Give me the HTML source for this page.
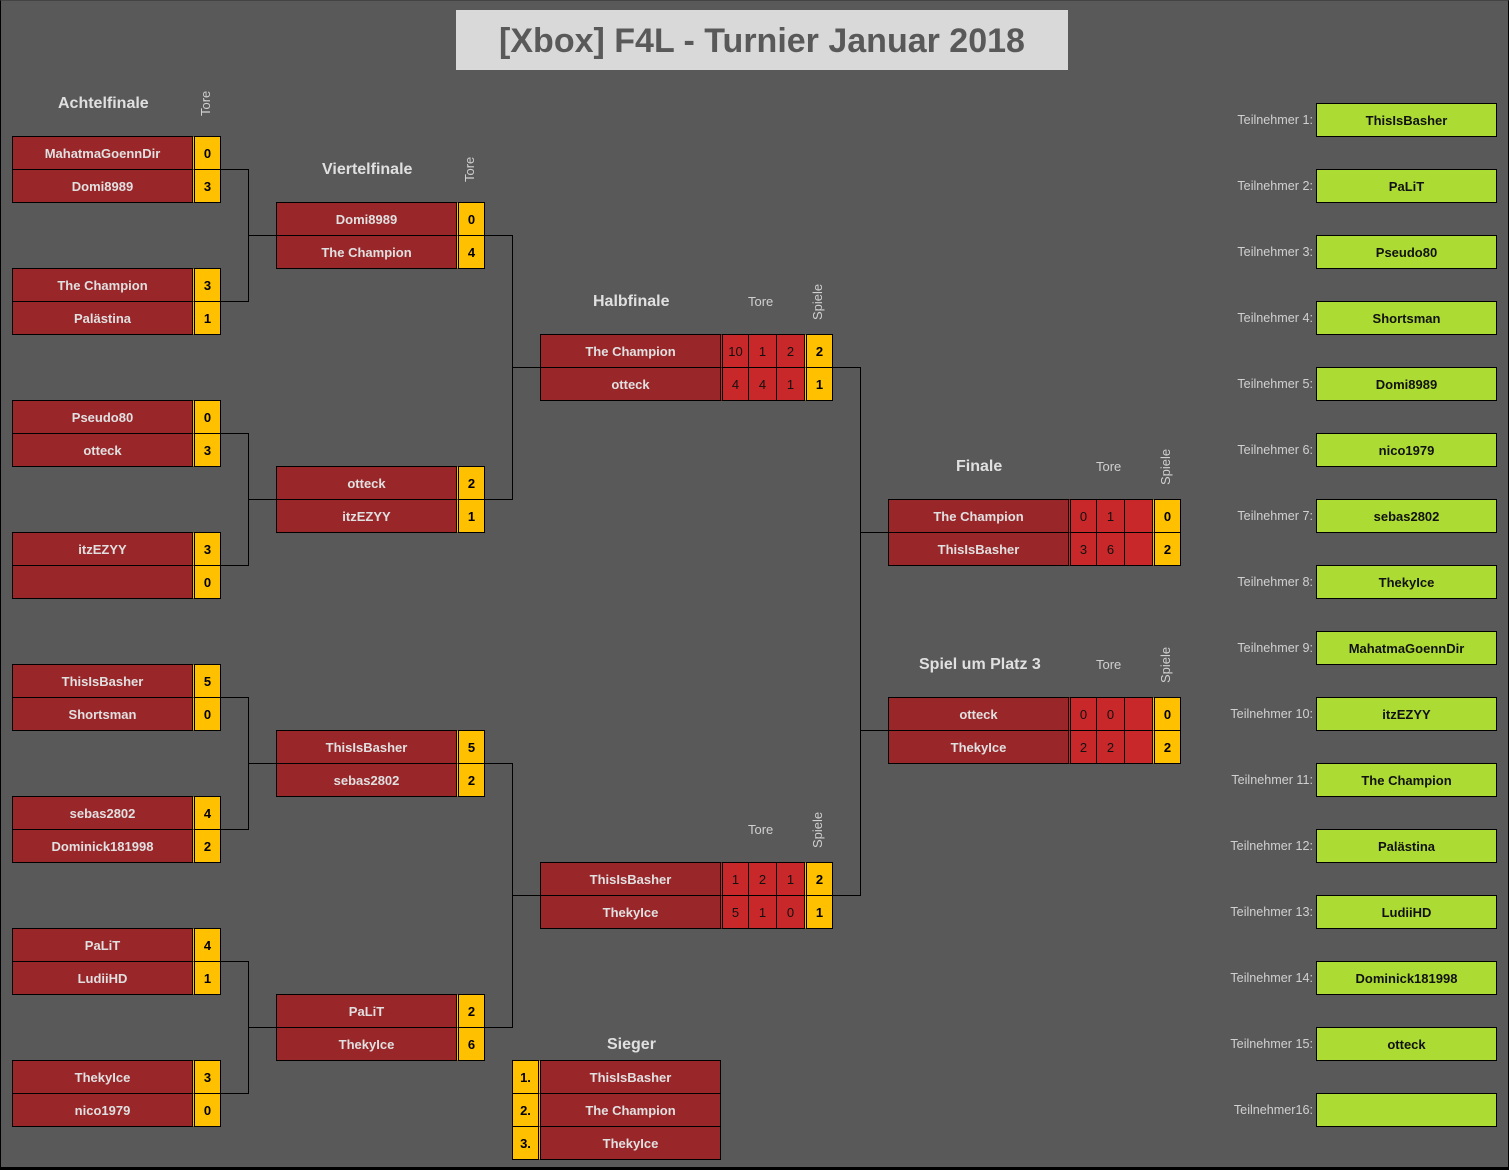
<!DOCTYPE html>
<html><head><meta charset="utf-8"><style>
body{margin:0;background:#595959;width:1509px;height:1170px;position:relative;overflow:hidden;font-family:"Liberation Sans",sans-serif}
.c{position:absolute;box-sizing:border-box;border:1px solid #000;display:flex;align-items:center;justify-content:center;font-size:13px;font-weight:bold}
.n{background:#992629;color:#e0e0e0}
.s{background:#ffc000;color:#000;border-left:3px double #000}
.t{background:#c8282a;color:#111;font-weight:normal}
.g{background:#acdc33;color:#111}
.h{position:absolute;color:#e0e0e0;font-weight:bold;font-size:16px}
.l{position:absolute;color:#d0d0d0;font-size:13px}
.v{position:absolute;color:#d0d0d0;font-size:13px;transform:rotate(-90deg);transform-origin:left top}
.ln{position:absolute;background:#000}
.tl{position:absolute;color:#d0d0d0;font-size:12.6px;text-align:right;width:120px}
</style></head><body>
<div style="position:absolute;left:0;top:0;width:1509px;height:1170px;box-sizing:border-box;border:1px solid #000;border-bottom:3px solid #000;border-top:1px solid #444"></div>
<div style="position:absolute;left:456px;top:10px;width:612px;height:60px;background:#d9d9d9;color:#595959;font-weight:bold;font-size:34px;display:flex;align-items:center;justify-content:center;padding-top:3px;box-sizing:border-box">[Xbox] F4L - Turnier Januar 2018</div>

<div class="h" style="left:58px;top:95px">Achtelfinale</div>
<div class="v" style="left:198px;top:116px">Tore</div>
<div class="h" style="left:322px;top:161px">Viertelfinale</div>
<div class="v" style="left:462px;top:182px">Tore</div>
<div class="h" style="left:593px;top:293px">Halbfinale</div>
<div class="l" style="left:748px;top:294px">Tore</div>
<div class="v" style="left:810px;top:320px">Spiele</div>
<div class="l" style="left:748px;top:822px">Tore</div>
<div class="v" style="left:810px;top:848px">Spiele</div>
<div class="h" style="left:956px;top:458px">Finale</div>
<div class="l" style="left:1096px;top:459px">Tore</div>
<div class="v" style="left:1158px;top:485px">Spiele</div>
<div class="h" style="left:919px;top:656px">Spiel um Platz 3</div>
<div class="l" style="left:1096px;top:657px">Tore</div>
<div class="v" style="left:1158px;top:683px">Spiele</div>
<div class="h" style="left:607px;top:1036px">Sieger</div>

<!-- Achtelfinale -->
<div class="c n" style="left:12px;top:136px;width:181px;height:34px">MahatmaGoennDir</div><div class="c s" style="left:192px;top:136px;width:29px;height:34px">0</div>
<div class="c n" style="left:12px;top:169px;width:181px;height:34px">Domi8989</div><div class="c s" style="left:192px;top:169px;width:29px;height:34px">3</div>
<div class="c n" style="left:12px;top:268px;width:181px;height:34px">The Champion</div><div class="c s" style="left:192px;top:268px;width:29px;height:34px">3</div>
<div class="c n" style="left:12px;top:301px;width:181px;height:34px">Palästina</div><div class="c s" style="left:192px;top:301px;width:29px;height:34px">1</div>
<div class="c n" style="left:12px;top:400px;width:181px;height:34px">Pseudo80</div><div class="c s" style="left:192px;top:400px;width:29px;height:34px">0</div>
<div class="c n" style="left:12px;top:433px;width:181px;height:34px">otteck</div><div class="c s" style="left:192px;top:433px;width:29px;height:34px">3</div>
<div class="c n" style="left:12px;top:532px;width:181px;height:34px">itzEZYY</div><div class="c s" style="left:192px;top:532px;width:29px;height:34px">3</div>
<div class="c n" style="left:12px;top:565px;width:181px;height:34px"></div><div class="c s" style="left:192px;top:565px;width:29px;height:34px">0</div>
<div class="c n" style="left:12px;top:664px;width:181px;height:34px">ThisIsBasher</div><div class="c s" style="left:192px;top:664px;width:29px;height:34px">5</div>
<div class="c n" style="left:12px;top:697px;width:181px;height:34px">Shortsman</div><div class="c s" style="left:192px;top:697px;width:29px;height:34px">0</div>
<div class="c n" style="left:12px;top:796px;width:181px;height:34px">sebas2802</div><div class="c s" style="left:192px;top:796px;width:29px;height:34px">4</div>
<div class="c n" style="left:12px;top:829px;width:181px;height:34px">Dominick181998</div><div class="c s" style="left:192px;top:829px;width:29px;height:34px">2</div>
<div class="c n" style="left:12px;top:928px;width:181px;height:34px">PaLiT</div><div class="c s" style="left:192px;top:928px;width:29px;height:34px">4</div>
<div class="c n" style="left:12px;top:961px;width:181px;height:34px">LudiiHD</div><div class="c s" style="left:192px;top:961px;width:29px;height:34px">1</div>
<div class="c n" style="left:12px;top:1060px;width:181px;height:34px">ThekyIce</div><div class="c s" style="left:192px;top:1060px;width:29px;height:34px">3</div>
<div class="c n" style="left:12px;top:1093px;width:181px;height:34px">nico1979</div><div class="c s" style="left:192px;top:1093px;width:29px;height:34px">0</div>

<!-- Viertelfinale -->
<div class="c n" style="left:276px;top:202px;width:181px;height:34px">Domi8989</div><div class="c s" style="left:456px;top:202px;width:29px;height:34px">0</div>
<div class="c n" style="left:276px;top:235px;width:181px;height:34px">The Champion</div><div class="c s" style="left:456px;top:235px;width:29px;height:34px">4</div>
<div class="c n" style="left:276px;top:466px;width:181px;height:34px">otteck</div><div class="c s" style="left:456px;top:466px;width:29px;height:34px">2</div>
<div class="c n" style="left:276px;top:499px;width:181px;height:34px">itzEZYY</div><div class="c s" style="left:456px;top:499px;width:29px;height:34px">1</div>
<div class="c n" style="left:276px;top:730px;width:181px;height:34px">ThisIsBasher</div><div class="c s" style="left:456px;top:730px;width:29px;height:34px">5</div>
<div class="c n" style="left:276px;top:763px;width:181px;height:34px">sebas2802</div><div class="c s" style="left:456px;top:763px;width:29px;height:34px">2</div>
<div class="c n" style="left:276px;top:994px;width:181px;height:34px">PaLiT</div><div class="c s" style="left:456px;top:994px;width:29px;height:34px">2</div>
<div class="c n" style="left:276px;top:1027px;width:181px;height:34px">ThekyIce</div><div class="c s" style="left:456px;top:1027px;width:29px;height:34px">6</div>

<!-- Halbfinale -->
<div class="c n" style="left:540px;top:334px;width:181px;height:34px">The Champion</div><div class="c t" style="left:720px;top:334px;width:29px;height:34px;border-left:3px double #000">10</div><div class="c t" style="left:748px;top:334px;width:29px;height:34px">1</div><div class="c t" style="left:776px;top:334px;width:29px;height:34px">2</div><div class="c s" style="left:804px;top:334px;width:29px;height:34px">2</div>
<div class="c n" style="left:540px;top:367px;width:181px;height:34px">otteck</div><div class="c t" style="left:720px;top:367px;width:29px;height:34px;border-left:3px double #000">4</div><div class="c t" style="left:748px;top:367px;width:29px;height:34px">4</div><div class="c t" style="left:776px;top:367px;width:29px;height:34px">1</div><div class="c s" style="left:804px;top:367px;width:29px;height:34px">1</div>
<div class="c n" style="left:540px;top:862px;width:181px;height:34px">ThisIsBasher</div><div class="c t" style="left:720px;top:862px;width:29px;height:34px;border-left:3px double #000">1</div><div class="c t" style="left:748px;top:862px;width:29px;height:34px">2</div><div class="c t" style="left:776px;top:862px;width:29px;height:34px">1</div><div class="c s" style="left:804px;top:862px;width:29px;height:34px">2</div>
<div class="c n" style="left:540px;top:895px;width:181px;height:34px">ThekyIce</div><div class="c t" style="left:720px;top:895px;width:29px;height:34px;border-left:3px double #000">5</div><div class="c t" style="left:748px;top:895px;width:29px;height:34px">1</div><div class="c t" style="left:776px;top:895px;width:29px;height:34px">0</div><div class="c s" style="left:804px;top:895px;width:29px;height:34px">1</div>

<!-- Finale -->
<div class="c n" style="left:888px;top:499px;width:181px;height:34px">The Champion</div><div class="c t" style="left:1068px;top:499px;width:29px;height:34px;border-left:3px double #000">0</div><div class="c t" style="left:1096px;top:499px;width:29px;height:34px">1</div><div class="c t" style="left:1124px;top:499px;width:29px;height:34px"></div><div class="c s" style="left:1152px;top:499px;width:29px;height:34px">0</div>
<div class="c n" style="left:888px;top:532px;width:181px;height:34px">ThisIsBasher</div><div class="c t" style="left:1068px;top:532px;width:29px;height:34px;border-left:3px double #000">3</div><div class="c t" style="left:1096px;top:532px;width:29px;height:34px">6</div><div class="c t" style="left:1124px;top:532px;width:29px;height:34px"></div><div class="c s" style="left:1152px;top:532px;width:29px;height:34px">2</div>
<div class="c n" style="left:888px;top:697px;width:181px;height:34px">otteck</div><div class="c t" style="left:1068px;top:697px;width:29px;height:34px;border-left:3px double #000">0</div><div class="c t" style="left:1096px;top:697px;width:29px;height:34px">0</div><div class="c t" style="left:1124px;top:697px;width:29px;height:34px"></div><div class="c s" style="left:1152px;top:697px;width:29px;height:34px">0</div>
<div class="c n" style="left:888px;top:730px;width:181px;height:34px">ThekyIce</div><div class="c t" style="left:1068px;top:730px;width:29px;height:34px;border-left:3px double #000">2</div><div class="c t" style="left:1096px;top:730px;width:29px;height:34px">2</div><div class="c t" style="left:1124px;top:730px;width:29px;height:34px"></div><div class="c s" style="left:1152px;top:730px;width:29px;height:34px">2</div>

<!-- Sieger -->
<div class="c s" style="left:512px;top:1060px;width:29px;height:34px;border-left:1px solid #000;border-right:3px double #000">1.</div><div class="c n" style="left:540px;top:1060px;width:181px;height:34px">ThisIsBasher</div>
<div class="c s" style="left:512px;top:1093px;width:29px;height:34px;border-left:1px solid #000;border-right:3px double #000">2.</div><div class="c n" style="left:540px;top:1093px;width:181px;height:34px">The Champion</div>
<div class="c s" style="left:512px;top:1126px;width:29px;height:34px;border-left:1px solid #000;border-right:3px double #000">3.</div><div class="c n" style="left:540px;top:1126px;width:181px;height:34px">ThekyIce</div>

<!-- connectors -->
<div class="ln" style="left:220px;top:169px;width:28px;height:1px"></div><div class="ln" style="left:220px;top:301px;width:28px;height:1px"></div><div class="ln" style="left:248px;top:169px;width:1px;height:133px"></div><div class="ln" style="left:248px;top:235px;width:28px;height:1px"></div>
<div class="ln" style="left:220px;top:433px;width:28px;height:1px"></div><div class="ln" style="left:220px;top:565px;width:28px;height:1px"></div><div class="ln" style="left:248px;top:433px;width:1px;height:133px"></div><div class="ln" style="left:248px;top:499px;width:28px;height:1px"></div>
<div class="ln" style="left:220px;top:697px;width:28px;height:1px"></div><div class="ln" style="left:220px;top:829px;width:28px;height:1px"></div><div class="ln" style="left:248px;top:697px;width:1px;height:133px"></div><div class="ln" style="left:248px;top:763px;width:28px;height:1px"></div>
<div class="ln" style="left:220px;top:961px;width:28px;height:1px"></div><div class="ln" style="left:220px;top:1093px;width:28px;height:1px"></div><div class="ln" style="left:248px;top:961px;width:1px;height:133px"></div><div class="ln" style="left:248px;top:1027px;width:28px;height:1px"></div>
<div class="ln" style="left:484px;top:235px;width:28px;height:1px"></div><div class="ln" style="left:484px;top:499px;width:28px;height:1px"></div><div class="ln" style="left:512px;top:235px;width:1px;height:265px"></div><div class="ln" style="left:512px;top:367px;width:28px;height:1px"></div>
<div class="ln" style="left:484px;top:763px;width:28px;height:1px"></div><div class="ln" style="left:484px;top:1027px;width:28px;height:1px"></div><div class="ln" style="left:512px;top:763px;width:1px;height:265px"></div><div class="ln" style="left:512px;top:895px;width:28px;height:1px"></div>
<div class="ln" style="left:832px;top:367px;width:28px;height:1px"></div><div class="ln" style="left:832px;top:895px;width:28px;height:1px"></div><div class="ln" style="left:860px;top:367px;width:1px;height:529px"></div><div class="ln" style="left:860px;top:532px;width:28px;height:1px"></div><div class="ln" style="left:860px;top:730px;width:28px;height:1px"></div>

<!-- Teilnehmer -->
<div class="tl" style="left:1193px;top:113px">Teilnehmer 1:</div><div class="c g" style="left:1316px;top:103px;width:181px;height:34px">ThisIsBasher</div>
<div class="tl" style="left:1193px;top:179px">Teilnehmer 2:</div><div class="c g" style="left:1316px;top:169px;width:181px;height:34px">PaLiT</div>
<div class="tl" style="left:1193px;top:245px">Teilnehmer 3:</div><div class="c g" style="left:1316px;top:235px;width:181px;height:34px">Pseudo80</div>
<div class="tl" style="left:1193px;top:311px">Teilnehmer 4:</div><div class="c g" style="left:1316px;top:301px;width:181px;height:34px">Shortsman</div>
<div class="tl" style="left:1193px;top:377px">Teilnehmer 5:</div><div class="c g" style="left:1316px;top:367px;width:181px;height:34px">Domi8989</div>
<div class="tl" style="left:1193px;top:443px">Teilnehmer 6:</div><div class="c g" style="left:1316px;top:433px;width:181px;height:34px">nico1979</div>
<div class="tl" style="left:1193px;top:509px">Teilnehmer 7:</div><div class="c g" style="left:1316px;top:499px;width:181px;height:34px">sebas2802</div>
<div class="tl" style="left:1193px;top:575px">Teilnehmer 8:</div><div class="c g" style="left:1316px;top:565px;width:181px;height:34px">ThekyIce</div>
<div class="tl" style="left:1193px;top:641px">Teilnehmer 9:</div><div class="c g" style="left:1316px;top:631px;width:181px;height:34px">MahatmaGoennDir</div>
<div class="tl" style="left:1193px;top:707px">Teilnehmer 10:</div><div class="c g" style="left:1316px;top:697px;width:181px;height:34px">itzEZYY</div>
<div class="tl" style="left:1193px;top:773px">Teilnehmer 11:</div><div class="c g" style="left:1316px;top:763px;width:181px;height:34px">The Champion</div>
<div class="tl" style="left:1193px;top:839px">Teilnehmer 12:</div><div class="c g" style="left:1316px;top:829px;width:181px;height:34px">Palästina</div>
<div class="tl" style="left:1193px;top:905px">Teilnehmer 13:</div><div class="c g" style="left:1316px;top:895px;width:181px;height:34px">LudiiHD</div>
<div class="tl" style="left:1193px;top:971px">Teilnehmer 14:</div><div class="c g" style="left:1316px;top:961px;width:181px;height:34px">Dominick181998</div>
<div class="tl" style="left:1193px;top:1037px">Teilnehmer 15:</div><div class="c g" style="left:1316px;top:1027px;width:181px;height:34px">otteck</div>
<div class="tl" style="left:1193px;top:1103px">Teilnehmer16:</div><div class="c g" style="left:1316px;top:1093px;width:181px;height:34px"></div>
</body></html>
